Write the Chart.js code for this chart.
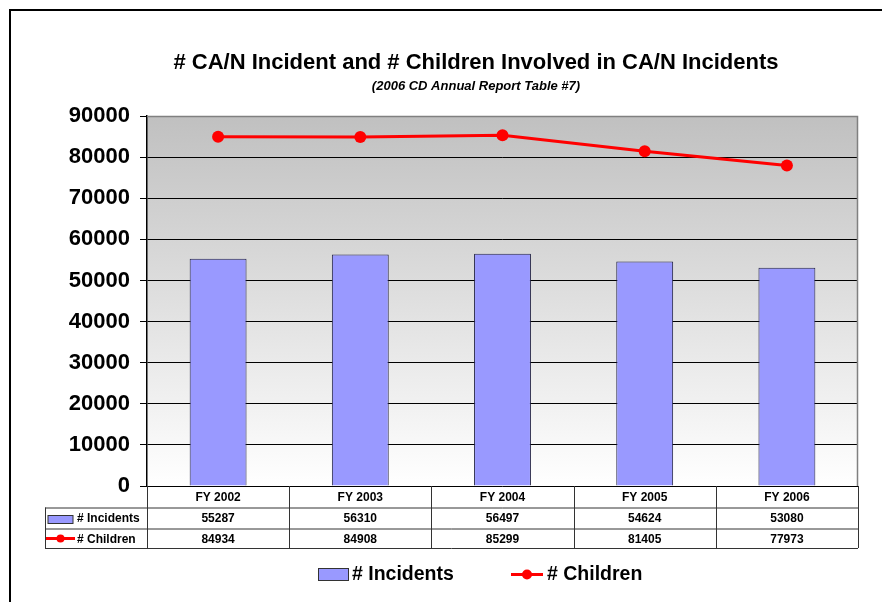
<!DOCTYPE html>
<html>
<head>
<meta charset="utf-8">
<script src="https://cdn.jsdelivr.net/npm/chart.js@4.4.1/dist/chart.umd.min.js"></script>
<style>
html,body{margin:0;padding:0;background:#fff;}
canvas{display:block;}
</style>
</head>
<body>
<canvas id="c" width="882" height="602"></canvas>
<script>
const categories = ['FY 2002', 'FY 2003', 'FY 2004', 'FY 2005', 'FY 2006'];
const incidents = [55287, 56310, 56497, 54624, 53080];
const children = [84934, 84908, 85299, 81405, 77973];
const seriesNames = ['# Incidents', '# Children'];
const titleText = '# CA/N Incident and # Children Involved in CA/N Incidents';
const subtitleText = '(2006 CD Annual Report Table #7)';
const yMin = 0, yMax = 90000, yStep = 10000;

const FONT = '"Liberation Sans", Arial, sans-serif';
const BAR_FILL = '#9999ff';
const LINE_RED = '#ff0000';

const bgPlugin = {
  id: 'bgPlugin',
  beforeDraw(chart) {
    const ctx = chart.ctx, a = chart.chartArea;
    ctx.save();
    ctx.fillStyle = '#fff';
    ctx.fillRect(0, 0, chart.width, chart.height);
    const g = ctx.createLinearGradient(0, a.top, 0, a.bottom);
    g.addColorStop(0, '#c0c0c0');
    g.addColorStop(1, '#ffffff');
    ctx.fillStyle = g;
    ctx.fillRect(a.left, a.top, a.right - a.left, a.bottom - a.top);
    ctx.restore();
  },
  afterDraw(chart) {
    const ctx = chart.ctx, a = chart.chartArea;
    ctx.save();
    // plot border top/right gray
    ctx.strokeStyle = '#808080';
    ctx.lineWidth = 1.5;
    ctx.beginPath();
    ctx.moveTo(a.left, a.top + 0.5);
    ctx.lineTo(a.right - 0.5, a.top + 0.5);
    ctx.lineTo(a.right - 0.5, a.bottom);
    ctx.stroke();
    // outer frame
    ctx.strokeStyle = '#000';
    ctx.lineWidth = 2;
    ctx.beginPath();
    ctx.moveTo(10, chart.height + 2);
    ctx.lineTo(10, 10);
    ctx.lineTo(chart.width + 2, 10);
    ctx.stroke();
    // titles
    ctx.fillStyle = '#000';
    ctx.textAlign = 'center';
    ctx.textBaseline = 'alphabetic';
    ctx.font = 'bold 22px ' + FONT;
    ctx.fillText(titleText, 476, 69);
    ctx.font = 'italic bold 13px ' + FONT;
    ctx.fillText(subtitleText, 476, 90);

    // data table
    const xs = chart.scales.x;
    const n = categories.length;
    const cw = (a.right - a.left) / n;
    const rows = [a.bottom, 507.5, 528.5, 548];
    const tabLeft = 45;
    ctx.strokeStyle = '#333';
    ctx.lineWidth = 1;
    ctx.beginPath();
    ctx.moveTo(a.left, rows[1] + 0.5); ctx.lineTo(a.right, rows[1] + 0.5);
    ctx.moveTo(tabLeft, rows[1] + 0.5); ctx.lineTo(a.left, rows[1] + 0.5);
    ctx.moveTo(tabLeft, rows[2] + 0.5); ctx.lineTo(a.right, rows[2] + 0.5);
    ctx.moveTo(tabLeft, rows[3] + 0.5); ctx.lineTo(a.right, rows[3] + 0.5);
    ctx.moveTo(tabLeft + 0.5, rows[1]); ctx.lineTo(tabLeft + 0.5, rows[3]);
    for (let i = 0; i <= n; i++) {
      const x = Math.round(a.left + i * cw) + 0.5;
      ctx.moveTo(x, rows[0]); ctx.lineTo(x, rows[3]);
    }
    ctx.stroke();

    ctx.font = 'bold 12px ' + FONT;
    ctx.textAlign = 'center';
    ctx.textBaseline = 'middle';
    ctx.fillStyle = '#000';
    for (let i = 0; i < n; i++) {
      const cx = xs.getPixelForValue(i);
      ctx.fillText(categories[i], cx, (rows[0] + rows[1]) / 2 + 1);
      ctx.fillText(String(incidents[i]), cx, (rows[1] + rows[2]) / 2 + 1);
      ctx.fillText(String(children[i]), cx, (rows[2] + rows[3]) / 2 + 1);
    }
    ctx.textAlign = 'left';
    ctx.fillStyle = BAR_FILL;
    ctx.fillRect(48, 515.5, 25, 8);
    ctx.strokeStyle = '#333';
    ctx.strokeRect(48, 515.5, 25, 8);
    ctx.fillStyle = '#000';
    ctx.fillText(seriesNames[0], 77, (rows[1] + rows[2]) / 2 + 1);
    ctx.strokeStyle = LINE_RED;
    ctx.lineWidth = 3;
    ctx.beginPath(); ctx.moveTo(46, 538.5); ctx.lineTo(75, 538.5); ctx.stroke();
    ctx.fillStyle = LINE_RED;
    ctx.beginPath(); ctx.arc(60.5, 538.5, 4, 0, Math.PI * 2); ctx.fill();
    ctx.fillStyle = '#000';
    ctx.fillText(seriesNames[1], 77, (rows[2] + rows[3]) / 2 + 1);

    // bottom legend
    ctx.fillStyle = BAR_FILL;
    ctx.fillRect(318.5, 568.5, 30, 12);
    ctx.strokeStyle = '#333';
    ctx.lineWidth = 1;
    ctx.strokeRect(318.5, 568.5, 30, 12);
    ctx.fillStyle = '#000';
    ctx.font = 'bold 19.5px ' + FONT;
    ctx.textBaseline = 'middle';
    ctx.fillText(seriesNames[0], 352, 575);
    ctx.strokeStyle = LINE_RED;
    ctx.lineWidth = 3;
    ctx.beginPath(); ctx.moveTo(511, 574.5); ctx.lineTo(543, 574.5); ctx.stroke();
    ctx.fillStyle = LINE_RED;
    ctx.beginPath(); ctx.arc(527, 574.5, 5, 0, Math.PI * 2); ctx.fill();
    ctx.fillStyle = '#000';
    ctx.fillText(seriesNames[1], 547, 575);
    ctx.restore();
  }
};

new Chart(document.getElementById('c'), {
  data: {
    labels: categories,
    datasets: [
      {
        type: 'line',
        label: seriesNames[1],
        data: children,
        borderColor: LINE_RED,
        backgroundColor: LINE_RED,
        borderWidth: 3,
        pointRadius: 6,
        pointHoverRadius: 6,
        pointBackgroundColor: LINE_RED,
        pointBorderColor: LINE_RED,
        pointBorderWidth: 0,
        tension: 0,
        order: 0
      },
      {
        type: 'bar',
        label: seriesNames[0],
        data: incidents,
        backgroundColor: BAR_FILL,
        borderColor: '#222244',
        borderWidth: 1,
        barPercentage: 0.4,
        categoryPercentage: 1.0,
        order: 1
      }
    ]
  },
  options: {
    responsive: false,
    animation: false,
    devicePixelRatio: 1,
    layout: { padding: { top: 116, right: 24, bottom: 116, left: 0 } },
    plugins: {
      legend: { display: false },
      title: { display: false },
      tooltip: { enabled: false }
    },
    scales: {
      x: {
        display: false,
        offset: true,
        grid: { display: false }
      },
      y: {
        min: yMin,
        max: yMax,
        afterFit(scale) { scale.width = 147; },
        ticks: {
          stepSize: yStep,
          color: '#000',
          font: { family: FONT, size: 22, weight: 'bold' },
          padding: 10,
          callback: (v) => String(v)
        },
        grid: {
          color: '#000',
          lineWidth: 1,
          tickLength: 7,
          drawTicks: true
        },
        border: { color: '#000', width: 1.5 }
      }
    }
  },
  plugins: [bgPlugin]
});
</script>
</body>
</html>
